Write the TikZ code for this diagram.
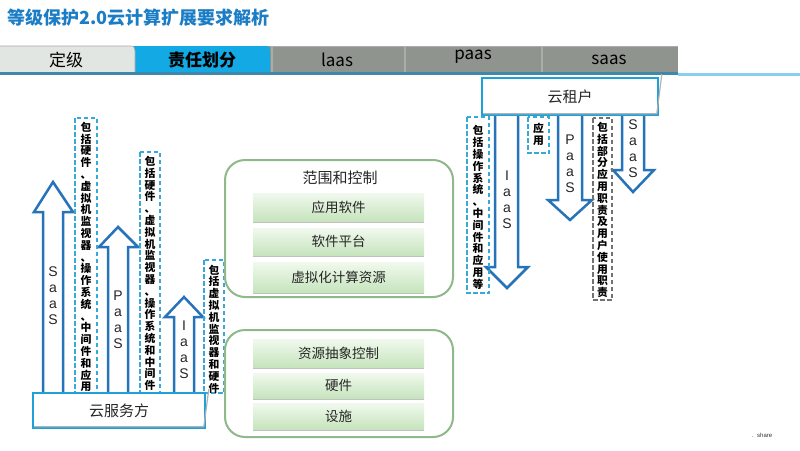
\documentclass[tikz,border=0pt]{standalone}
\usepackage{fontspec}
\setmainfont{Noto Sans CJK SC}
\newfontfamily\latsans{Liberation Sans}
\usetikzlibrary{shadows}
\definecolor{titleblue}{HTML}{1B7DC6}
\definecolor{tablight}{HTML}{E2E6E2}
\definecolor{tabblue}{HTML}{12A9E4}
\definecolor{tabgray}{HTML}{8F948F}
\definecolor{tabdiv}{HTML}{A9AEA9}
\definecolor{tabline}{HTML}{3F88AA}
\definecolor{lightline}{HTML}{86D2EE}
\definecolor{arrblue}{HTML}{2673B9}
\definecolor{dashblue}{HTML}{36A9D9}
\definecolor{dashgray}{HTML}{707470}
\definecolor{boxblue}{HTML}{1EA0D8}
\definecolor{gframe}{HTML}{8FB88B}
\definecolor{gtop}{HTML}{F1F9EE}
\definecolor{gbot}{HTML}{C6E4BD}
\begin{document}
\begin{tikzpicture}[x=1pt,y=-1pt,
  tabtext/.style={inner sep=0, font=\fontsize{17}{19}\selectfont, text=black},
  arrowshape/.style={draw=arrblue, fill=white, line width=2.5pt, line join=miter},
  arrtext/.style={inner sep=0, align=center, font=\latsans\fontsize{14}{16}\selectfont, text=black!85},
  vtext/.style={inner sep=0, align=center, font=\bfseries\fontsize{10.8}{11.8}\selectfont, text=black},
  dashbox/.style={draw=dashblue, line width=1.5pt, dash pattern=on 4.5pt off 2.5pt},
  dashboxgray/.style={draw=dashgray, line width=1.3pt, dash pattern=on 4.5pt off 2.5pt},
  partybox/.style={draw=boxblue, fill=white, line width=2.6pt, inner sep=0, font=\fontsize{15}{17}\selectfont, text=black!85},
  greenframe/.style={draw=gframe, line width=2pt, rounded corners=20pt, inner sep=0},
  greenbar/.style={top color=gtop, bottom color=gbot, draw=none, minimum width=171pt, inner sep=0,
     font=\fontsize{13.5}{15}\selectfont, text=black!85,
     drop shadow={shadow xshift=0pt, shadow yshift=-2pt, fill=black!30, opacity=0.8}}]
\useasboundingbox (0,0) rectangle (800,450);
\fill[white] (0,0) rectangle (800,450);

% title
\node[anchor=west, inner sep=0, font=\bfseries\fontsize{18}{20}\selectfont, text=titleblue] (title) at (7,17.5) {等级保护2.0云计算扩展要求解析};

% tabs
\fill[tabgray] (268,46) rectangle (678,72);
\draw[tabdiv, line width=1pt] (270,46.5) -- (678,46.5);
\draw[tabdiv, line width=1.2pt] (405,46) -- (405,72) (542,46) -- (542,72) (272,46) -- (272,72);
\fill[tabblue] (133,72) -- (133,46) -- (264,46) .. controls (269,46) .. (270,51) -- (270,72) -- cycle;
\fill[tablight] (0,72) -- (0,46) -- (129,46) .. controls (134,46) .. (135,51) -- (135,72) -- cycle;
\draw[black!35, line width=0.6pt] (0,46) -- (129,46) .. controls (134,46) .. (135,51) -- (135,72);
\fill[tabline] (0,72) rectangle (678,75);
\fill[lightline] (678,72.5) rectangle (800,75.5);
\node[tabtext] (tab1) at (66,60) {定级};
\node[tabtext, font=\bfseries\fontsize{17}{19}\selectfont] (tab2) at (202,60) {责任划分};
\node[tabtext] (tab3) at (337,60) {laas};
\node[tabtext] (tab4) at (473,57) {paas};
\node[tabtext] (tab5) at (609,60) {saas};

% ---------- left: cloud service provider ----------
\draw[arrowshape] (43,393) -- (43,212) -- (34,212) -- (53,182) -- (73,212) -- (63,212) -- (63,393);
\draw[arrowshape] (108,393) -- (108,247) -- (99,247) -- (118,227) -- (138,247) -- (128,247) -- (128,393);
\draw[arrowshape] (174,393) -- (174,317) -- (165,317) -- (184,297) -- (203,317) -- (194,317) -- (194,393);
\node[arrtext] (saasL) at (53,296) {S\\a\\a\\S};
\node[arrtext] (paasL) at (118,320) {P\\a\\a\\S};
\node[arrtext] (iaasL) at (184,350) {I\\a\\a\\S};

\draw[dashbox] (75,118) rectangle (97,393);
\draw[dashbox] (140,152) rectangle (160,393);
\draw[dashbox] (204,260) rectangle (224,393);
\node[vtext] (d1) at (86,257) {包\\括\\硬\\件\\、\\虚\\拟\\机\\监\\视\\器\\、\\操\\作\\系\\统\\、\\中\\间\\件\\和\\应\\用};
\node[vtext] (d2) at (150,273.5) {包\\括\\硬\\件\\、\\虚\\拟\\机\\监\\视\\器\\、\\操\\作\\系\\统\\和\\中\\间\\件};
\node[vtext] (d3) at (214,329) {包\\括\\虚\\拟\\机\\监\\视\\器\\和\\硬\\件};

\node[partybox, minimum width=172pt, minimum height=35pt] (svc) at (119,410.5) {云服务方};
\draw[black!30, line width=1.2pt] ([shift={(2.5,-2.5)}]svc.north east) -- ([shift={(-2.5,-2.5)}]svc.south east) -- ([shift={(2.5,-2.5)}]svc.south west);

% ---------- middle: scope and control ----------
\node[greenframe, minimum width=228pt, minimum height=137pt] (scope1) at (339,228.5) {};
\node[greenframe, minimum width=228pt, minimum height=107pt] (scope2) at (339,383.5) {};
\node[inner sep=0, font=\fontsize{15}{17}\selectfont, text=black!85] (scopetitle) at (340,178) {范围和控制};
\node[greenbar, minimum height=28pt] (b1) at (338.5,207) {应用软件};
\node[greenbar, minimum height=27pt] (b2) at (338.5,241.5) {软件平台};
\node[greenbar, minimum height=30pt] (b3) at (338.5,277) {虚拟化计算资源};
\node[greenbar, minimum height=28pt] (b4) at (338.5,353) {资源抽象控制};
\node[greenbar, minimum height=25pt] (b5) at (338.5,385.5) {硬件};
\node[greenbar, minimum height=26pt] (b6) at (338.5,416) {设施};

% ---------- right: cloud tenant ----------
\draw[arrowshape] (495,110) -- (495,267) -- (486,267) -- (507,288) -- (528,267) -- (518,267) -- (518,110);
\draw[arrowshape] (558,110) -- (558,200) -- (548,200) -- (570,220) -- (592,200) -- (582,200) -- (582,110);
\draw[arrowshape] (622,110) -- (622,170) -- (613,170) -- (633,192) -- (654,170) -- (644,170) -- (644,110);
\node[arrtext] (iaasR) at (507,200) {I\\a\\a\\S};
\node[arrtext] (paasR) at (570,164) {P\\a\\a\\S};
\node[arrtext] (saasR) at (633,149) {S\\a\\a\\S};

\draw[dashbox] (467,117) rectangle (489,293);
\draw[dashbox] (528,117) rectangle (549,153);
\draw[dashboxgray] (593,118) rectangle (612,300);
\node[vtext] (r1) at (478,207.5) {包\\括\\操\\作\\系\\统\\、\\中\\间\\件\\和\\应\\用\\等};
\node[vtext] (r2) at (538.5,134.5) {应\\用};
\node[vtext] (r3) at (602.5,210) {包\\括\\部\\分\\应\\用\\职\\责\\及\\用\\户\\使\\用\\职\\责};

\node[partybox, minimum width=176pt, minimum height=37pt] (tenant) at (570,96.5) {云租户};
\draw[black!30, line width=1.2pt] ([shift={(2.5,-2.5)}]tenant.north east) -- ([shift={(-2.5,-2.5)}]tenant.south east) -- ([shift={(2.5,-2.5)}]tenant.south west);

% footer
\node[inner sep=0, anchor=west, font=\latsans\fontsize{6}{7}\selectfont, text=black!80] (share) at (752,435.5) {.\ \ share};
\end{tikzpicture}
\end{document}
